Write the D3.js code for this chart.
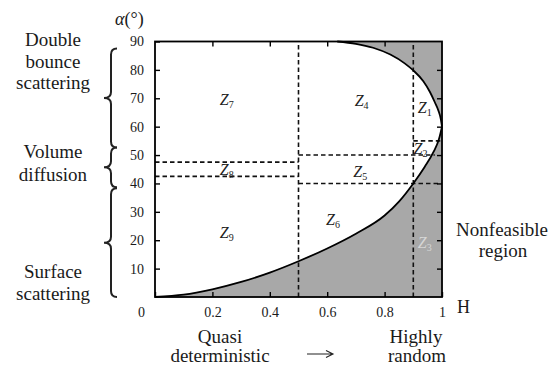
<!DOCTYPE html>
<html><head><meta charset="utf-8">
<script src="https://cdn.jsdelivr.net/npm/d3@7"></script>
<style>
html,body{margin:0;padding:0;background:#fff;}
svg{display:block;}
text{font-family:"Liberation Serif","Times New Roman",serif;fill:#1a1a1a;}
</style></head>
<body>
<svg id="c" width="550" height="368"></svg>
<script>
// ---- data ----
// lower feasibility boundary (H, alpha in degrees)
const lowerH     = [0, 0.10, 0.20, 0.30, 0.40, 0.50, 0.60, 0.70, 0.80, 0.85, 0.90, 0.94, 0.97, 0.99, 1];
const lowerAlpha = [0, 0.8,  2.7,  5.3,  8.6,  12.6, 17.1, 22.3, 28.7, 33.6, 40.0, 45.9, 51.0, 55.8, 60];
// upper feasibility boundary (H ascending, alpha from 90 down to 60)
const upperH     = [0.635, 0.70, 0.76, 0.82, 0.87, 0.90, 0.935, 0.958, 0.975, 0.987, 0.996, 1];
const upperAlpha = [90,    89.2, 87.8, 85.4, 82.3, 79.8, 76.0,  72.2,  68.6,  65.8,  62.6,  60];
// zone borders
const entropyBorders = [0.5, 0.9];
const segments = [
  {h0: 0,   h1: 0.5,   a: 47.5},
  {h0: 0,   h1: 0.5,   a: 42.5},
  {h0: 0.5, h1: 0.975, a: 50},
  {h0: 0.5, h1: 1,     a: 40},
  {h0: 0.9, h1: 1,     a: 55}
];
// zone labels
const zoneNames = ["1","2","3","4","5","6","7","8","9"];
const zoneH     = [0.94, 0.925, 0.94, 0.72, 0.715, 0.62, 0.25, 0.25, 0.25];
const zoneAlpha = [66.5, 52, 19, 69, 44, 27, 69.3, 44.7, 22.5];
// axes ticks
const xTicks = [0, 0.2, 0.4, 0.6, 0.8, 1];
const yTicks = [10, 20, 30, 40, 50, 60, 70, 80, 90];
// mechanisms (alpha ranges of braces) and their text lines
const mechanisms = [
  {lo: 52.7, hi: 87.5, lines: ["Double", "bounce", "scattering"], base: [46, 68, 89]},
  {lo: 38.7, hi: 52.7, lines: ["Volume", "diffusion"], base: [158, 181]},
  {lo: 0,    hi: 38.3, lines: ["Surface", "scattering"], base: [278, 300]}
];

// ---- drawing ----
const svg = d3.select("#c");
const x = d3.scaleLinear().domain([0, 1]).range([155, 442]);
const y = d3.scaleLinear().domain([0, 90]).range([297, 41.5]);

const lowerPts = lowerH.map((h, i) => [h, lowerAlpha[i]]);
const upperPts = upperH.map((h, i) => [h, upperAlpha[i]]);
const line = d3.line().x(d => x(d[0])).y(d => y(d[1])).curve(d3.curveMonotoneX);
const lowPath = line(lowerPts), upPath = line(upperPts);

// gray nonfeasible region (two lobes)
const gray = "#a8a8a8";
svg.append("path")
  .attr("d", lowPath + `L${x(1)},${y(0)}L${x(0)},${y(0)}Z`)
  .attr("fill", gray).attr("stroke", gray).attr("stroke-width", 0.5);
svg.append("path")
  .attr("d", upPath + `L${x(1)},${y(90)}Z`)
  .attr("fill", gray).attr("stroke", gray).attr("stroke-width", 0.5);

// dashed zone borders
const dash = "4.5,3";
svg.selectAll(".vb").data(entropyBorders).enter().append("line")
  .attr("x1", d => x(d)).attr("x2", d => x(d))
  .attr("y1", y(0)).attr("y2", y(90))
  .attr("stroke", "#111").attr("stroke-width", 1.6).attr("stroke-dasharray", dash);
svg.selectAll(".hb").data(segments).enter().append("line")
  .attr("x1", d => x(d.h0)).attr("x2", d => x(d.h1))
  .attr("y1", d => y(d.a)).attr("y2", d => y(d.a))
  .attr("stroke", "#111").attr("stroke-width", 1.6).attr("stroke-dasharray", dash);

// boundary curves
[lowPath, upPath].forEach(p => svg.append("path").attr("d", p).attr("fill", "none")
  .attr("stroke", "#000").attr("stroke-width", 1.8));

// axes
const fmt = d => d === 0 ? "0" : d === 1 ? "1" : d3.format(".1f")(d);
const gb = svg.append("g").attr("transform", `translate(0,${y(0)})`)
  .call(d3.axisBottom(x).tickValues(xTicks).tickSize(-5).tickPadding(10).tickFormat(fmt));
const gt = svg.append("g").attr("transform", `translate(0,${y(90)})`)
  .call(d3.axisTop(x).tickValues(xTicks.slice(1, -1)).tickSize(-5).tickFormat(""));
const gl = svg.append("g").attr("transform", `translate(${x(0)},0)`)
  .call(d3.axisLeft(y).tickValues(yTicks).tickSize(-5).tickPadding(11));
const gr = svg.append("g").attr("transform", `translate(${x(1)},0)`)
  .call(d3.axisRight(y).tickValues(yTicks.slice(0, -1)).tickSize(-5).tickFormat(""));
[gb, gt, gl, gr].forEach(g => {
  g.select(".domain").remove();
  g.selectAll(".tick line").attr("stroke", "#000").attr("stroke-width", 1.4);
  g.selectAll("text").style("font-family", "'Liberation Serif',serif").style("font-size", "14px").attr("fill", "#222");
});
gb.selectAll(".tick").filter(d => d === 0).select("text").attr("dx", -14);

// frame
svg.append("rect").attr("x", x(0)).attr("y", y(90))
  .attr("width", x(1) - x(0)).attr("height", y(0) - y(90))
  .attr("fill", "none").attr("stroke", "#000").attr("stroke-width", 1.8);

// zone labels
zoneNames.forEach((n, i) => {
  const c = n === "3" ? "#d6d6d6" : "#222";
  const t = svg.append("text").attr("x", x(zoneH[i])).attr("y", y(zoneAlpha[i]) + 5)
    .attr("text-anchor", "middle").style("font-style", "italic").style("font-size", "16px")
    .style("fill", c);
  t.append("tspan").text("Z");
  t.append("tspan").text(n).attr("dy", 3).style("font-size", "10px").style("font-style", "normal");
});

// axis titles
const at = svg.append("text").attr("x", 115).attr("y", 25).style("font-size", "18px");
at.append("tspan").text("α").style("font-style", "italic");
at.append("tspan").text("(°)");
svg.append("text").attr("x", 457).attr("y", 313).text("H").style("font-size", "18px");

// braces and mechanism labels
function brace(yTop, yBot) {
  const xr = 117, xm = 111, xl = 104, r = 6;
  const ym = (yTop + yBot) / 2;
  return `M${xr},${yTop} Q${xm},${yTop} ${xm},${yTop + r} L${xm},${ym - r} Q${xm},${ym} ${xl},${ym}` +
         ` Q${xm},${ym} ${xm},${ym + r} L${xm},${yBot - r} Q${xm},${yBot} ${xr},${yBot}`;
}
mechanisms.forEach(m => {
  svg.append("path").attr("d", brace(y(m.hi), y(m.lo))).attr("fill", "none")
    .attr("stroke", "#222").attr("stroke-width", 2);
  m.lines.forEach((l, i) => {
    svg.append("text").attr("x", 53).attr("y", m.base[i]).attr("text-anchor", "middle")
      .style("font-size", "19px").text(l);
  });
});

// bottom and right annotations
const ann = [
  {t: "Quasi", x: 220, y: 343}, {t: "deterministic", x: 220, y: 362},
  {t: "Highly", x: 416, y: 343}, {t: "random", x: 417, y: 362},
  {t: "Nonfeasible", x: 502, y: 236}, {t: "region", x: 503, y: 257}
];
ann.forEach(a => svg.append("text").attr("x", a.x).attr("y", a.y).attr("text-anchor", "middle")
  .style("font-size", "19px").text(a.t));
// arrow between the two ends of the entropy scale
svg.append("path").attr("d", "M307,354 L333,354 M326,350.5 L333,354 L326,357.5")
  .attr("fill", "none").attr("stroke", "#222").attr("stroke-width", 1.1);
</script>
</body></html>
